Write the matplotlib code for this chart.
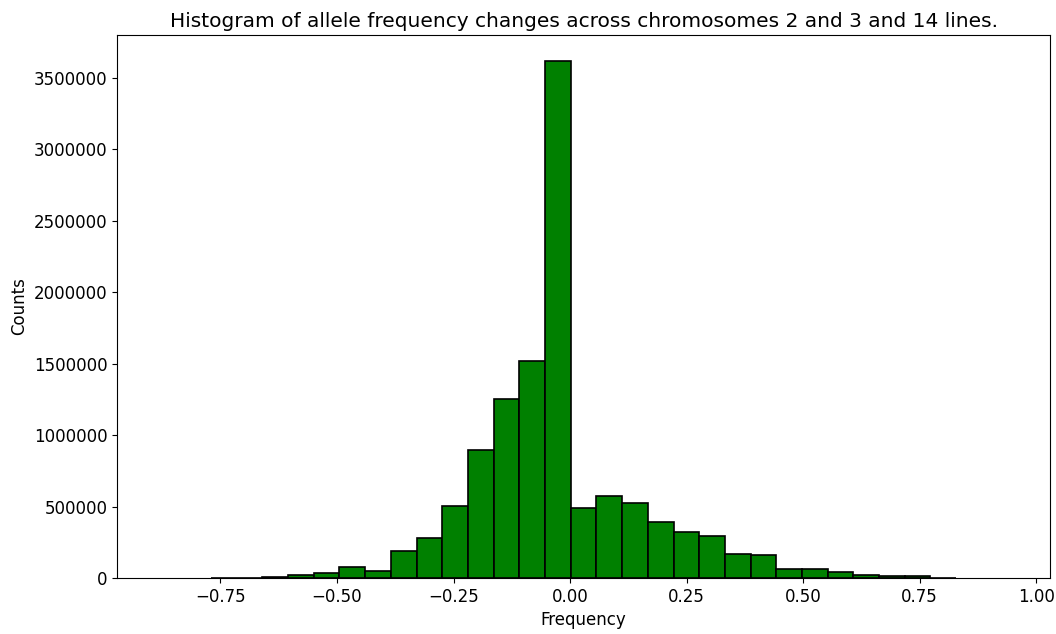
import matplotlib
matplotlib.use("Agg")
import matplotlib.pyplot as plt
import numpy as np

# Bin range and count (33 equal-width bins)
freq_min = -0.8805
freq_max = 0.9385
n_bins = 33

# Counts per bin, left to right
counts = [
    0, 0, 1000, 1500, 5000, 23000, 37000, 80000, 50000, 186000,
    278000, 507000, 898000, 1255000, 1519000, 3619000, 492000, 574000,
    527000, 392000, 322000, 296000, 170000, 160000, 60000, 62000,
    42000, 21000, 14000, 13000, 1500, 0, 0,
]


def main():
    edges = np.linspace(freq_min, freq_max, n_bins + 1)
    centers = (edges[:-1] + edges[1:]) / 2

    fig = plt.figure(figsize=(10.56, 6.34), dpi=100)
    ax = fig.add_axes([0.111, 0.0883, 0.8833, 0.8565])
    _, _, patches = ax.hist(centers, bins=edges, weights=counts, color='green',
                            edgecolor='black', linewidth=1.2)
    # empty bins leave no outline
    for p in patches:
        if p.get_height() == 0:
            p.set_visible(False)
    ax.set_xlim(edges[0] - 0.05 * (edges[-1] - edges[0]),
                edges[-1] + 0.05 * (edges[-1] - edges[0]))

    ax.set_title('Histogram of allele frequency changes across chromosomes 2 and 3 and 14 lines.',
                 fontsize=14.5)
    ax.set_xlabel('Frequency', fontsize=12)
    ax.set_ylabel('Counts', fontsize=12)
    ax.ticklabel_format(style='plain', axis='y', useOffset=False)
    ax.tick_params(labelsize=12)
    ax.set_xticks([-0.75, -0.5, -0.25, 0.0, 0.25, 0.5, 0.75, 1.0])

    fig.savefig('out.png', dpi=100)


if __name__ == '__main__':
    main()
